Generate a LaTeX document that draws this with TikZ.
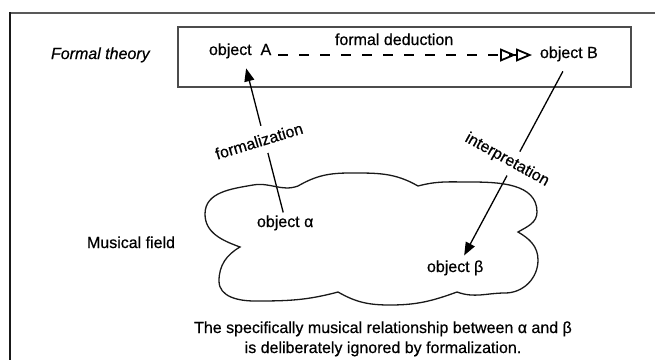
\documentclass[tikz,border=0pt]{standalone}
\usepackage{fontspec}
\setmainfont{Liberation Sans}[FakeBold=0.5]
\usetikzlibrary{arrows.meta,calc}
\begin{document}
\begin{tikzpicture}[x=1pt,y=-1pt,
  txt/.style={inner sep=0pt, outer sep=0pt, font=\fontsize{16}{19}\selectfont, text=black},
  lbl/.style={txt, fill=white},
  arr/.style={line width=1.3pt, draw=black, -{Triangle[length=13pt,width=10pt]}},
  dashline/.style={line width=2.8pt, draw=black, dash pattern=on 10pt off 11pt,
    -{Triangle[open,length=16pt,width=13pt,line width=1.8pt] Triangle[open,length=16pt,width=13pt,line width=1.8pt]}},
  cloudline/.style={line width=1.3pt, draw=black!90},
]
\useasboundingbox (0,0) rectangle (655,360);

% outer frame: top rule and left rule
\draw[line width=2pt, black!65] (9,13) -- (655,13);
\draw[line width=1.6pt, black!90] (10,12) -- (10,360);

% box of the formal theory
\draw[line width=1.4pt, black!70] (178,27) rectangle (631,87);

% texts
\node[txt, anchor=base west, font=\fontsize{16}{19}\selectfont\itshape] (ft) at (51,59) {Formal theory};
\node[txt, anchor=base west] (A) at (209,55) {object\ \ A};
\node[txt, anchor=base west] (fd) at (335,45) {formal deduction};
\node[txt, anchor=base west] (B) at (540,58) {object B};
\node[txt, anchor=base west] (alpha) at (257,227) {object α};
\node[txt, anchor=base west] (beta) at (427,272) {object β};
\node[txt, anchor=base west] (mf) at (87,248) {Musical field};
\node[txt, anchor=base] (note1) at (383,333) {The specifically musical relationship between α and β};
\node[txt, anchor=base] (note2) at (383,353) {is deliberately ignored by formalization.};

% formal deduction
\coordinate (Bin) at (A.base east -| B.west);
\draw[dashline] ([xshift=7pt]A.base east) -- ([xshift=-8pt]Bin);

% formalization and interpretation
\draw[arr] ([xshift=-2pt,yshift=3pt]alpha.north) -- ([xshift=6pt,yshift=-10pt]A.south);
\draw[arr] ([xshift=-6pt,yshift=-10pt]B.south) -- ([xshift=9pt,yshift=5pt]beta.north);

\node[lbl, rotate=17, inner xsep=2pt, inner ysep=8pt] (fz) at (259,141) {formalization};
\node[lbl, rotate=-29, inner xsep=2pt, inner ysep=6pt] (ip) at (507,160) {interpretation};

% the musical field
\draw[cloudline]
  (240,247) to[out=160,in=270] (205,214) to[out=90,in=190] (253,185) to[out=10,in=200] (298,186)
  to[out=30,in=180] (350,173) to[out=0,in=150] (418,186)
  to[out=15,in=180] (470,182) to[out=0,in=90] (537,212) to[out=270,in=30] (518,232)
  to[out=-30,in=90] (538,260) to[out=270,in=0] (505,293) to[out=180,in=-20] (457,292)
  to[out=200,in=0] (390,305) to[out=180,in=-30] (338,292)
  to[out=195,in=0] (255,301) to[out=180,in=270] (219,281) to[out=90,in=210] cycle;
\end{tikzpicture}
\end{document}
